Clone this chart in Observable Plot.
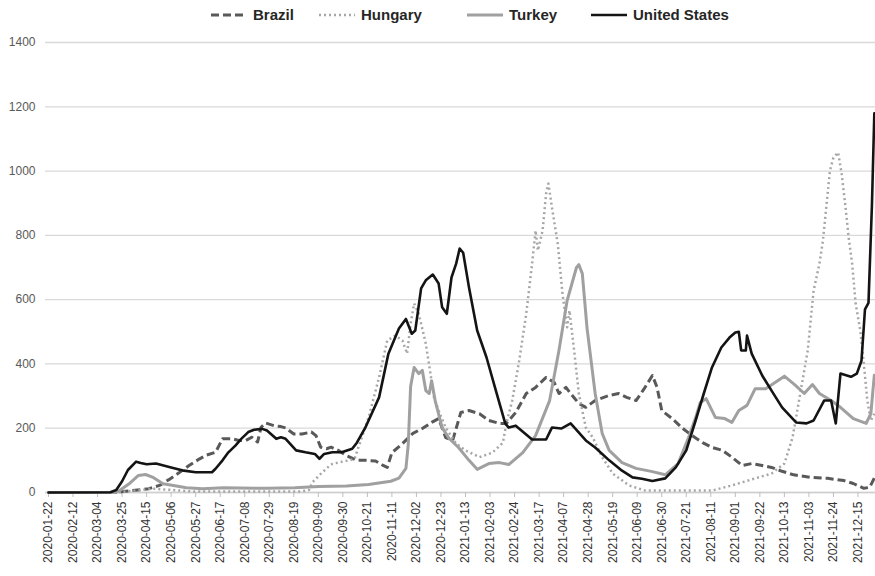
<!DOCTYPE html>
<html>
<head>
<meta charset="utf-8">
<script src="https://cdn.jsdelivr.net/npm/d3@7"></script>
<script src="https://cdn.jsdelivr.net/npm/@observablehq/plot@0.6"></script>
<style>
  html, body { margin: 0; padding: 0; background: #fff; }
  #wrap { width: 875px; height: 576px; position: relative; overflow: hidden; font-family: "Liberation Sans", Arial, sans-serif; }
  #legend { position: relative; height: 30px; font: bold 15px "Liberation Sans", Arial, sans-serif; color: #262626; }
  .item { position: absolute; top: 6px; height: 18px; line-height: 18px; display: flex; align-items: center; white-space: nowrap; }
  .item svg { margin-right: 5px; }
</style>
</head>
<body>
<div id="wrap">
  <div id="legend"></div>
  <div id="chart"></div>
</div>
<script>
// ---- Data ----
const seriesNames = ["Brazil", "Hungary", "Turkey", "United States"];

const xTickLabels = [
  "2020-01-22","2020-02-12","2020-03-04","2020-03-25","2020-04-15","2020-05-06","2020-05-27",
  "2020-06-17","2020-07-08","2020-07-29","2020-08-19","2020-09-09","2020-09-30","2020-10-21",
  "2020-11-11","2020-12-02","2020-12-23","2021-01-13","2021-02-03","2021-02-24","2021-03-17",
  "2021-04-07","2021-04-28","2021-05-19","2021-06-09","2021-06-30","2021-07-21","2021-08-11",
  "2021-09-01","2021-09-22","2021-10-13","2021-11-03","2021-11-24","2021-12-15"
];
const yTicks = [0, 200, 400, 600, 800, 1000, 1200, 1400];

const brazil = [
  ["2020-01-22",0],["2020-03-20",0],["2020-03-26",3],["2020-04-03",6],["2020-04-17",12],["2020-04-26",22],
  ["2020-05-04",40],["2020-05-13",62],["2020-05-21",83],["2020-05-30",104],["2020-06-05",116],["2020-06-13",125],
  ["2020-06-19",167],["2020-06-27",167],["2020-07-03",162],["2020-07-09",162],["2020-07-14",172],["2020-07-19",157],
  ["2020-07-22",203],["2020-07-26",216],["2020-08-02",208],["2020-08-08",205],["2020-08-12",201],["2020-08-19",182],
  ["2020-08-26",182],["2020-09-03",188],["2020-09-07",177],["2020-09-11",141],["2020-09-16",136],["2020-09-20",141],
  ["2020-09-26",131],["2020-10-03",115],["2020-10-12",100],["2020-10-20",100],["2020-10-28",98],["2020-11-03",85],
  ["2020-11-07",78],["2020-11-11",124],["2020-11-20",152],["2020-11-29",184],["2020-12-07",199],["2020-12-15",218],
  ["2020-12-21",230],["2020-12-27",171],["2021-01-02",162],["2021-01-09",249],["2021-01-16",255],["2021-01-25",245],
  ["2021-02-02",224],["2021-02-11",215],["2021-02-17",215],["2021-02-25",249],["2021-03-06",308],["2021-03-14",327],
  ["2021-03-23",358],["2021-03-30",342],["2021-04-03",308],["2021-04-09",327],["2021-04-13",308],["2021-04-20",277],
  ["2021-04-26",265],["2021-05-04",286],["2021-05-16",302],["2021-05-24",308],["2021-05-31",296],["2021-06-08",286],
  ["2021-06-15",323],["2021-06-22",364],["2021-06-26",327],["2021-06-30",255],["2021-07-09",230],["2021-07-18",199],
  ["2021-07-26",177],["2021-08-04",155],["2021-08-12",140],["2021-08-21",131],["2021-08-29",110],["2021-09-07",84],
  ["2021-09-15",90],["2021-09-24",84],["2021-10-02",78],["2021-10-11",66],["2021-10-21",55],["2021-11-05",47],
  ["2021-11-19",44],["2021-12-03",37],["2021-12-11",28],["2021-12-20",13],["2021-12-25",16],["2021-12-29",45]
];

const hungary = [
  ["2020-01-22",0],["2020-03-20",0],["2020-04-05",6],["2020-04-20",12],["2020-05-06",8],["2020-05-25",3],
  ["2020-08-25",3],["2020-09-01",8],["2020-09-04",32],["2020-09-10",54],["2020-09-16",75],["2020-09-21",89],
  ["2020-09-27",94],["2020-10-05",100],["2020-10-10",104],["2020-10-13",137],["2020-10-22",233],["2020-10-31",358],
  ["2020-11-07",473],["2020-11-14",488],["2020-11-20",473],["2020-11-24",432],["2020-11-27",525],["2020-11-30",588],
  ["2020-12-04",556],["2020-12-10",463],["2020-12-14",370],["2020-12-17",296],["2020-12-21",255],["2020-12-27",202],
  ["2021-01-05",152],["2021-01-13",131],["2021-01-25",110],["2021-02-05",124],["2021-02-14",155],["2021-02-17",215],
  ["2021-02-22",286],["2021-02-28",411],["2021-03-06",556],["2021-03-11",712],["2021-03-14",815],["2021-03-16",753],
  ["2021-03-20",815],["2021-03-23",930],["2021-03-25",961],["2021-03-28",887],["2021-04-02",774],["2021-04-06",619],
  ["2021-04-10",514],["2021-04-12",566],["2021-04-16",442],["2021-04-20",308],["2021-04-26",202],["2021-05-02",171],
  ["2021-05-10",110],["2021-05-19",59],["2021-06-02",22],["2021-06-16",6],["2021-08-12",6],["2021-08-29",22],
  ["2021-09-18",44],["2021-10-02",59],["2021-10-13",90],["2021-10-20",171],["2021-10-26",296],["2021-11-02",442],
  ["2021-11-07",628],["2021-11-12",712],["2021-11-15",784],["2021-11-17",856],["2021-11-21",1002],["2021-11-24",1042],
  ["2021-11-28",1058],["2021-12-01",992],["2021-12-04",899],["2021-12-07",794],["2021-12-10",712],["2021-12-13",588],
  ["2021-12-17",504],["2021-12-20",401],["2021-12-23",286],["2021-12-26",224],["2021-12-29",245]
];

const turkey = [
  ["2020-01-22",0],["2020-03-18",0],["2020-03-22",4],["2020-03-31",27],["2020-04-08",53],["2020-04-14",56],
  ["2020-04-20",48],["2020-04-29",27],["2020-05-08",22],["2020-05-19",15],["2020-06-02",12],["2020-06-20",15],
  ["2020-07-27",13],["2020-08-20",15],["2020-09-09",19],["2020-10-03",20],["2020-10-22",25],["2020-11-10",35],
  ["2020-11-17",45],["2020-11-23",75],["2020-11-25",150],["2020-11-27",330],["2020-11-30",389],["2020-12-04",370],
  ["2020-12-07",380],["2020-12-10",317],["2020-12-13",308],["2020-12-15",348],["2020-12-18",286],["2020-12-24",202],
  ["2020-12-30",168],["2021-01-07",140],["2021-01-16",100],["2021-01-23",72],["2021-02-02",90],["2021-02-11",93],
  ["2021-02-19",87],["2021-03-03",124],["2021-03-14",177],["2021-03-26",286],["2021-04-03",442],["2021-04-10",597],
  ["2021-04-18",700],["2021-04-20",709],["2021-04-23",681],["2021-04-27",513],["2021-05-04",308],["2021-05-10",184],
  ["2021-05-16",131],["2021-05-27",93],["2021-06-08",75],["2021-06-22",65],["2021-07-03",55],["2021-07-14",90],
  ["2021-07-23",171],["2021-07-29",233],["2021-08-02",280],["2021-08-07",292],["2021-08-15",233],["2021-08-23",230],
  ["2021-08-29",218],["2021-09-04",255],["2021-09-11",271],["2021-09-18",323],["2021-09-27",323],["2021-10-05",342],
  ["2021-10-13",362],["2021-10-22",335],["2021-10-30",308],["2021-11-06",336],["2021-11-12",308],["2021-11-22",286],
  ["2021-11-30",265],["2021-12-11",230],["2021-12-22",215],["2021-12-26",245],["2021-12-29",365]
];

const unitedStates = [
  ["2020-01-22",0],["2020-03-15",1],["2020-03-20",8],["2020-03-25",35],["2020-03-30",70],["2020-04-06",96],
  ["2020-04-10",92],["2020-04-15",88],["2020-04-23",90],["2020-05-06",78],["2020-05-17",68],["2020-05-27",63],
  ["2020-06-10",63],["2020-06-13",74],["2020-06-19",100],["2020-06-24",125],["2020-06-30",146],["2020-07-05",167],
  ["2020-07-11",188],["2020-07-16",195],["2020-07-23",198],["2020-07-27",193],["2020-08-04",167],["2020-08-08",172],
  ["2020-08-12",167],["2020-08-21",131],["2020-08-29",125],["2020-09-06",120],["2020-09-10",105],["2020-09-14",120],
  ["2020-09-21",125],["2020-09-29",125],["2020-10-08",136],["2020-10-12",155],["2020-10-19",200],["2020-10-31",296],
  ["2020-11-08",432],["2020-11-17",510],["2020-11-23",540],["2020-11-28",494],["2020-12-01",504],["2020-12-06",635],
  ["2020-12-10",660],["2020-12-16",678],["2020-12-21",650],["2020-12-24",576],["2020-12-28",556],["2021-01-01",669],
  ["2021-01-05",712],["2021-01-08",759],["2021-01-11",746],["2021-01-16",638],["2021-01-23",504],["2021-01-31",420],
  ["2021-02-08",317],["2021-02-16",215],["2021-02-19",202],["2021-02-25",208],["2021-03-11",165],["2021-03-23",165],
  ["2021-03-28",202],["2021-04-05",199],["2021-04-13",215],["2021-04-26",162],["2021-05-04",140],["2021-05-16",100],
  ["2021-05-27",68],["2021-06-05",47],["2021-06-13",43],["2021-06-22",36],["2021-07-03",44],["2021-07-12",78],
  ["2021-07-21",131],["2021-07-29",224],["2021-08-05",308],["2021-08-12",389],["2021-08-20",451],["2021-08-27",482],
  ["2021-09-01",498],["2021-09-04",500],["2021-09-06",442],["2021-09-10",442],["2021-09-11",488],["2021-09-15",432],
  ["2021-09-24",364],["2021-10-02",317],["2021-10-11",265],["2021-10-23",218],["2021-11-01",215],["2021-11-07",224],
  ["2021-11-16",286],["2021-11-22",286],["2021-11-26",215],["2021-11-30",370],["2021-12-09",360],["2021-12-14",370],
  ["2021-12-18",410],["2021-12-21",570],["2021-12-24",590],["2021-12-27",900],["2021-12-29",1180]
];

// ---- Build table ----
const seriesData = [brazil, hungary, turkey, unitedStates];
const rows = seriesData.flatMap((arr, i) => arr.map(([d, v]) => ({ series: seriesNames[i], date: new Date(d + "T00:00:00Z"), value: v })));
const styles = {
  "Brazil":        { stroke: "#595959", width: 3,   dash: "8,4",  cap: "butt" },
  "Hungary":       { stroke: "#a6a6a6", width: 2.5, dash: "2,3",  cap: "butt" },
  "Turkey":        { stroke: "#a0a0a0", width: 3,   dash: null,   cap: "round" },
  "United States": { stroke: "#141414", width: 2.6, dash: null,   cap: "round" }
};

// ---- Legend ----
const legendPos = { "Brazil": 210, "Hungary": 318, "Turkey": 466, "United States": 590 };
const legend = document.getElementById("legend");
for (const name of seriesNames) {
  const s = styles[name];
  const item = document.createElement("div");
  item.className = "item";
  item.style.left = legendPos[name] + "px";
  item.innerHTML = `<svg width="38" height="12"><line x1="1" y1="6" x2="37" y2="6" stroke="${s.stroke}" stroke-width="${s.width}" ${s.dash ? `stroke-dasharray="${s.dash}"` : ""} stroke-linecap="butt"/></svg><span>${name}</span>`;
  legend.appendChild(item);
}

// ---- Chart ----
const xTicks = xTickLabels.map(d => new Date(d + "T00:00:00Z"));
const fmt = d3.utcFormat("%Y-%m-%d");

const lines = seriesNames.map(name => {
  const s = styles[name];
  return Plot.line(rows.filter(r => r.series === name), {
    x: "date", y: "value",
    stroke: s.stroke, strokeWidth: s.width,
    strokeDasharray: s.dash || undefined,
    strokeLinecap: s.cap, strokeLinejoin: "round",
    curve: "linear"
  });
});

const chart = Plot.plot({
  width: 875,
  height: 546,
  marginTop: 12,
  marginBottom: 84,
  marginLeft: 45,
  marginRight: 0,
  insetLeft: 3,
  style: { fontFamily: "'Liberation Sans', Arial, sans-serif", background: "#fff" },
  x: { type: "utc", domain: [new Date("2020-01-22T00:00:00Z"), new Date("2021-12-30T00:00:00Z")] },
  y: { domain: [0, 1400] },
  marks: [
    Plot.gridY(yTicks, { stroke: "#d9d9d9", strokeOpacity: 1, strokeWidth: 1.3 }),
    Plot.axisY(yTicks, { tickSize: 0, tickPadding: 10, fontSize: 12, fill: "#595959", label: null, tickFormat: d => String(d) }),
    Plot.ruleY([0], { stroke: "#cfcfcf", strokeWidth: 1.3 }),
    Plot.axisX(xTicks, { tickFormat: fmt, tickRotate: -90, tickSize: 5, tickPadding: 4, fontSize: 12, fill: "#333333", stroke: "#bfbfbf", label: null }),
    ...lines
  ]
});
document.getElementById("chart").appendChild(chart);
</script>
</body>
</html>
